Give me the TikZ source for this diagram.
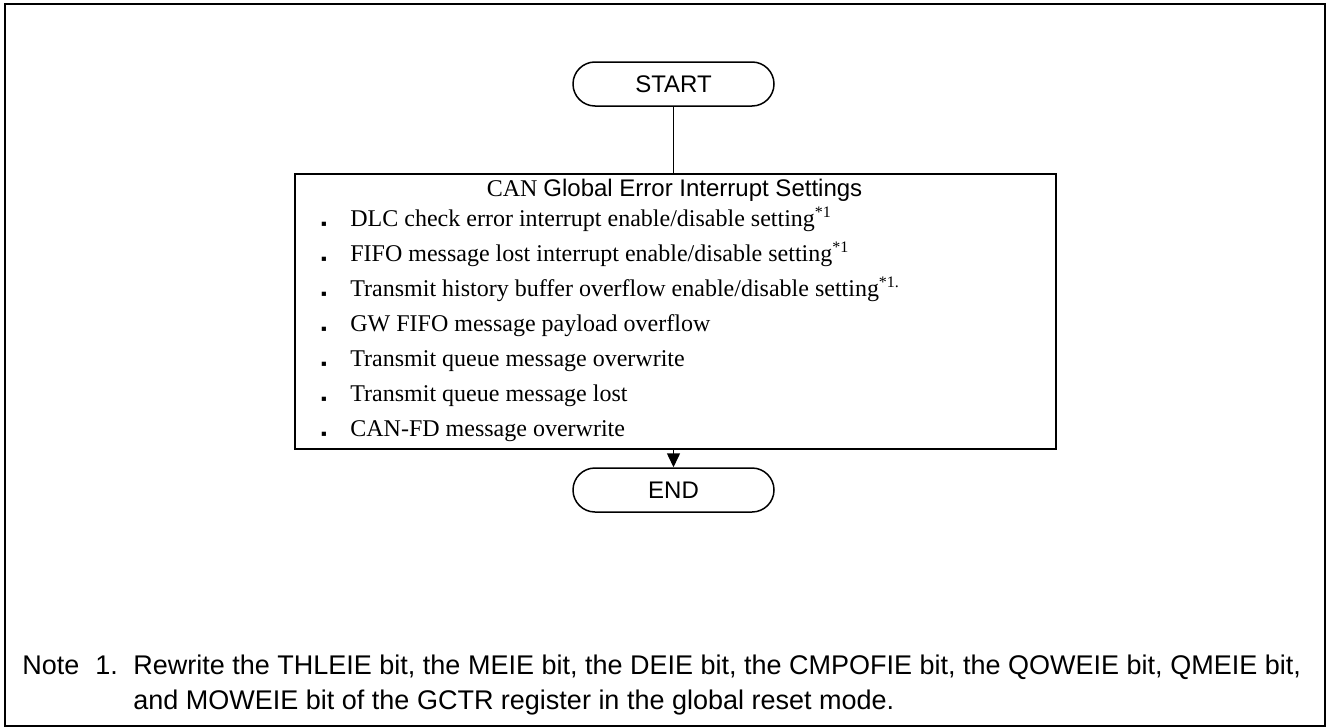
\documentclass[tikz,border=0pt]{standalone}
\usepackage{fontspec}
\setmainfont{Liberation Serif}
\setsansfont{Liberation Sans}
\newfontfamily\symfont{DejaVu Sans}
\usetikzlibrary{arrows.meta}
\begin{document}
\begin{tikzpicture}[x=0.5pt,y=-0.5pt,
  term/.style={draw,line width=0.75pt,rounded corners=11pt,minimum width=100.5pt,minimum height=22pt,inner sep=0pt,font=\sffamily\fontsize{12pt}{14pt}\selectfont},
  procbox/.style={draw,line width=1pt,inner sep=0pt},
  item/.style={anchor=mid west,inner sep=0pt,font=\rmfamily\fontsize{12pt}{14pt}\selectfont},
  bul/.style={anchor=mid,inner sep=0pt,font=\symfont\fontsize{4.2pt}{5pt}\selectfont},
  notetext/.style={anchor=mid west,inner sep=0pt,font=\sffamily\fontsize{13.5pt}{16pt}\selectfont},
  conn/.style={line width=0.75pt},
  arr/.style={line width=0.75pt,-{Triangle[length=7pt,width=6.5pt]}}]
\useasboundingbox (0,0) rectangle (1328,728);
\draw[line width=1pt] (5,4) rectangle (1325,726);
\node[term] (start) at (673.5,84) {START};
\node[procbox,minimum width=380.5pt,minimum height=137.5pt] (box) at (675.5,311.5) {};
\node[term] (end) at (673.5,490) {END};
\draw[conn] (start.south) -- (start.south |- box.north);
\draw[arr] (box.south -| end.north) -- (end.north);
\node[anchor=mid,inner sep=0pt,font=\fontsize{12pt}{14pt}\selectfont] (title) at (674.5,192) {\rmfamily CAN \sffamily Global Error Interrupt Settings};
\foreach \i/\t in {1/{DLC check error interrupt enable/disable setting\textsuperscript{*1}},
                   2/{FIFO message lost interrupt enable/disable setting\textsuperscript{*1}},
                   3/{Transmit history buffer overflow enable/disable setting\textsuperscript{*1.}},
                   4/{GW FIFO message payload overflow},
                   5/{Transmit queue message overwrite},
                   6/{Transmit queue message lost},
                   7/{CAN-FD message overwrite}}{
  \node[bul] (b\i) at (324,{222+35*(\i-1)}) {▪};
  \node[item] (t\i) at (350,{222+35*(\i-1)}) {\t};
}
\node[notetext] (note) at (22,670) {Note};
\node[notetext] (noteno) at (95,670) {1.};
\node[notetext] (n1) at (133,670) {Rewrite the THLEIE bit, the MEIE bit, the DEIE bit, the CMPOFIE bit, the QOWEIE bit, QMEIE bit,};
\node[notetext] (n2) at (133,705) {and MOWEIE bit of the GCTR register in the global reset mode.};
\end{tikzpicture}
\end{document}
